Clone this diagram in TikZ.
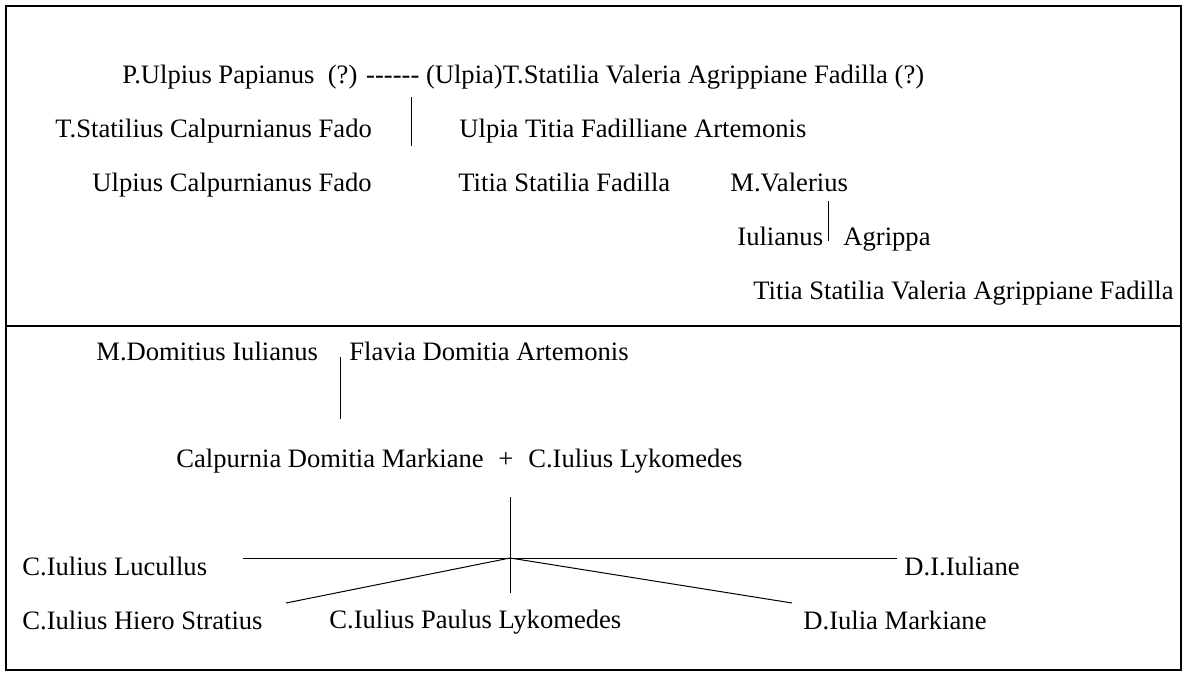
\documentclass[tikz,border=0pt]{standalone}
\usepackage{fontspec}
\setmainfont{Liberation Serif}
\usepackage{tikz}
\usetikzlibrary{positioning}
\tikzset{
  person/.style={ % one name of the family tree
    anchor=base west, inner sep=0pt, text=black,
    font=\fontsize{13.3}{16}\selectfont
  },
  link/.style={  % descent and marriage lines
    draw, black, line width=0.5pt
  },
  frame/.style={
    draw, black, line width=1.2pt
  }
}

\begin{document}
\begin{tikzpicture}[x=0.5pt, y=-0.5pt]
  \useasboundingbox (0,0) rectangle (1188,673);
  \draw[frame] (6,6) rectangle (1181,670);
  \draw[black, line width=1pt] (6,326) -- (1180,326);

  % upper tree
  \node[person] (papianus) at (122,84) {P.Ulpius Papianus\ \ (?) -{}-{}-{}-{}-{}- (Ulpia)T.Statilia Valeria Agrippiane Fadilla (?)};
  \node[person] (calpurnianus) at (55,138) {T.Statilius Calpurnianus Fado};
  \node[person] (artemonis) at (459,138) {Ulpia Titia Fadilliane Artemonis};
  \node[person] (ulpius) at (92,192) {Ulpius Calpurnianus Fado};
  \node[person] (titia) at (458,192) {Titia Statilia Fadilla};
  \node[person] (valerius) at (730,192) {M.Valerius};
  \node[person] (iulianus) at (737,246) {Iulianus};
  \node[person] (agrippa) at (843,246) {Agrippa};
  \node[person] (fadilla) at (753,300) {Titia Statilia Valeria Agrippiane Fadilla};
  \coordinate (u1) at (411,97);
  \coordinate (u2) at (411,146);
  \coordinate (v1) at (828,201);
  \coordinate (v2) at (828,241);
  \path[link] (u1) -- (u2);
  \path[link] (v1) -- (v2);

  % lower tree
  \node[person] (domitius) at (96,361) {M.Domitius Iulianus};
  \node[person] (flavia) at (349,361) {Flavia Domitia Artemonis};
  \node[person] (markiane) at (176,467) {Calpurnia Domitia Markiane};
  \node[person, right=7pt of markiane.base east, anchor=base west] (plus) {+};
  \node[person, right=7pt of plus.base east, anchor=base west] (lykomedes) {C.Iulius Lykomedes};
  \node[person] (lucullus) at (22,575) {C.Iulius Lucullus};
  \node[person] (iuliane) at (904,575) {D.I.Iuliane};
  \node[person] (hiero) at (22,629) {C.Iulius Hiero Stratius};
  \node[person] (paulus) at (329,628) {C.Iulius Paulus Lykomedes};
  \node[person] (dmarkiane) at (803,629) {D.Iulia Markiane};
  \coordinate (d1) at (340,357);
  \coordinate (d2) at (340,419);
  \coordinate (top) at (510,497);
  \coordinate (hub) at (510,558);
  \coordinate (bottom) at (510,593);
  \coordinate (west) at (243,558);
  \coordinate (east) at (897,558);
  \coordinate (hieroend) at (286,603);
  \coordinate (markend) at (792,603);
  \path[link] (d1) -- (d2);
  \path[link] (top) -- (bottom);
  \path[link] (west) -- (east);
  \path[link] (hieroend) -- (hub) -- (markend);
\end{tikzpicture}
\end{document}
